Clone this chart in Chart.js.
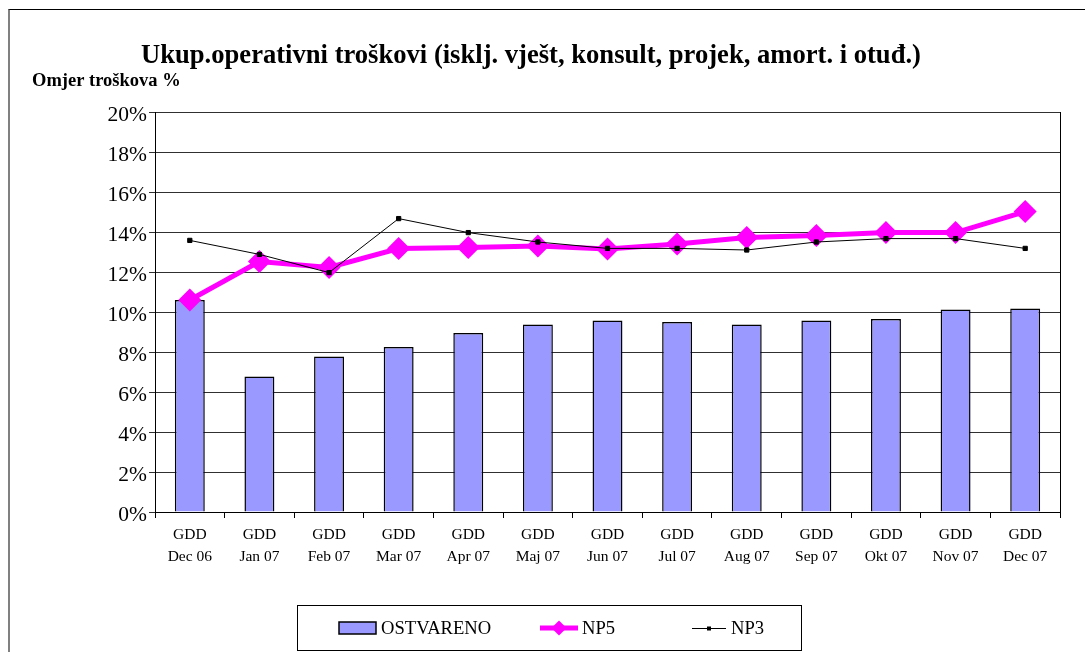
<!DOCTYPE html>
<html>
<head>
<meta charset="utf-8">
<script src="https://cdn.jsdelivr.net/npm/chart.js@4"></script>
<style>
    html, body { margin: 0; padding: 0; background: #fff; overflow: hidden; }
    #frame { position: absolute; left: 8px; top: 9px; width: 1200px; height: 800px;
             border-left: 2px solid #808080; border-top: 1px solid #000; }
    #costChart { position: absolute; left: 0; top: 0; }
</style>
</head>
<body>
<div id="frame"></div>
<canvas id="costChart" width="1085" height="652"></canvas>
<script>
const chartTitle = 'Ukup.operativni troškovi (isklj. vješt, konsult, projek, amort. i otuđ.)';
const axisCaption = 'Omjer troškova %';

// categories (each label is "GDD" over the period)
const periods = ['Dec 06', 'Jan 07', 'Feb 07', 'Mar 07', 'Apr 07', 'Maj 07', 'Jun 07',
                 'Jul 07', 'Aug 07', 'Sep 07', 'Okt 07', 'Nov 07', 'Dec 07'];

// series values, in %
const ostvareno = [10.6, 6.78, 7.78, 8.25, 8.95, 9.37, 9.58, 9.5, 9.37, 9.58, 9.65, 10.12, 10.18];
const np5 = [10.6, 12.52, 12.23, 13.17, 13.23, 13.3, 13.15, 13.4, 13.73, 13.82, 13.97, 13.97, 15.02];
const np3 = [13.58, 12.88, 11.97, 14.67, 13.97, 13.5, 13.18, 13.18, 13.1, 13.5, 13.67, 13.67, 13.18];

const serif = 'Liberation Serif, Times New Roman, serif';

// title, y caption, plot frame and the boxed legend
const decorPlugin = {
    id: 'decor',
    afterDraw(chart) {
        const ctx = chart.ctx;
        const area = chart.chartArea;
        ctx.save();

        // right edge of the plot
        ctx.strokeStyle = '#000';
        ctx.lineWidth = 1;
        ctx.beginPath();
        ctx.moveTo(Math.round(area.right) + 0.5, area.top);
        ctx.lineTo(Math.round(area.right) + 0.5, area.bottom);
        ctx.stroke();

        ctx.fillStyle = '#000';
        ctx.textBaseline = 'alphabetic';
        ctx.font = 'bold 26.6px ' + serif;
        ctx.textAlign = 'center';
        ctx.fillText(chartTitle, 531, 63);

        ctx.font = 'bold 18.5px ' + serif;
        ctx.textAlign = 'left';
        ctx.fillText(axisCaption, 32, 86);

        // legend
        ctx.strokeStyle = '#000';
        ctx.lineWidth = 1;
        ctx.strokeRect(297.5, 605.5, 504, 45);

        const ds = chart.data.datasets;
        const bar = ds.find(d => d.label === 'OSTVARENO');
        const l5 = ds.find(d => d.label === 'NP5');
        const l3 = ds.find(d => d.label === 'NP3');
        const cy = 628;

        ctx.font = '18.6px ' + serif;
        ctx.textBaseline = 'middle';

        ctx.fillStyle = bar.backgroundColor;
        ctx.fillRect(339, 622, 37, 12);
        ctx.strokeStyle = '#000';
        ctx.lineWidth = 1.5;
        ctx.strokeRect(339, 622, 37, 12);
        ctx.fillStyle = '#000';
        ctx.fillText(bar.label, 381, cy + 1);

        ctx.strokeStyle = l5.borderColor;
        ctx.lineWidth = 5;
        ctx.beginPath();
        ctx.moveTo(540, cy);
        ctx.lineTo(578, cy);
        ctx.stroke();
        ctx.fillStyle = l5.backgroundColor;
        Chart.helpers.drawPoint(ctx, { pointStyle: 'rectRot', radius: 7.5, borderWidth: 0 }, 559, cy);
        ctx.fillStyle = '#000';
        ctx.fillText(l5.label, 582, cy + 1);

        ctx.strokeStyle = l3.borderColor;
        ctx.lineWidth = 1;
        ctx.beginPath();
        ctx.moveTo(692, cy + 0.5);
        ctx.lineTo(726, cy + 0.5);
        ctx.stroke();
        ctx.fillStyle = '#000';
        ctx.fillRect(707, cy - 1.5, 4, 4);
        ctx.fillText(l3.label, 731, cy + 1);

        ctx.restore();
    }
};

const ctx = document.getElementById('costChart').getContext('2d');
new Chart(ctx, {
    type: 'bar',
    data: {
        labels: periods.map(p => ['GDD', p]),
        datasets: [
            {
                type: 'line',
                label: 'NP3',
                data: np3,
                borderColor: '#000000',
                backgroundColor: '#000000',
                borderWidth: 1,
                pointStyle: 'rect',
                pointRadius: 3,
                pointHoverRadius: 3,
                tension: 0,
                order: 0
            },
            {
                type: 'line',
                label: 'NP5',
                data: np5,
                borderColor: '#FF00FF',
                backgroundColor: '#FF00FF',
                borderWidth: 5,
                pointStyle: 'rectRot',
                pointRadius: 11.5,
                pointHoverRadius: 11.5,
                pointBorderWidth: 0,
                tension: 0,
                order: 1
            },
            {
                label: 'OSTVARENO',
                data: ostvareno,
                backgroundColor: '#9999FF',
                borderColor: '#000000',
                borderWidth: 1.5,
                barPercentage: 0.43,
                categoryPercentage: 1,
                order: 2
            }
        ]
    },
    options: {
        responsive: false,
        animation: false,
        layout: { padding: { top: 112, right: 25, bottom: 0, left: 0 } },
        plugins: {
            legend: { display: false },
            title: { display: false },
            tooltip: { enabled: false }
        },
        scales: {
            x: {
                grid: { display: true, drawOnChartArea: false, tickLength: 6, color: '#000', offset: true },
                border: { display: true, color: '#000', width: 1 },
                ticks: {
                    color: '#000',
                    font: { family: serif, size: 15.5, lineHeight: 1.42 },
                    padding: 6,
                    maxRotation: 0,
                    autoSkip: false
                },
                afterFit: s => { s.height = 140; }
            },
            y: {
                min: 0,
                max: 20,
                ticks: {
                    stepSize: 2,
                    callback: v => v + '%',
                    color: '#000',
                    font: { family: serif, size: 21.5 },
                    padding: 2,
                    labelOffset: 3
                },
                grid: { color: '#303030', tickLength: 6 },
                border: { color: '#000', width: 1 },
                afterFit: s => { s.width = 155; }
            }
        }
    },
    plugins: [decorPlugin]
});
</script>
</body>
</html>
